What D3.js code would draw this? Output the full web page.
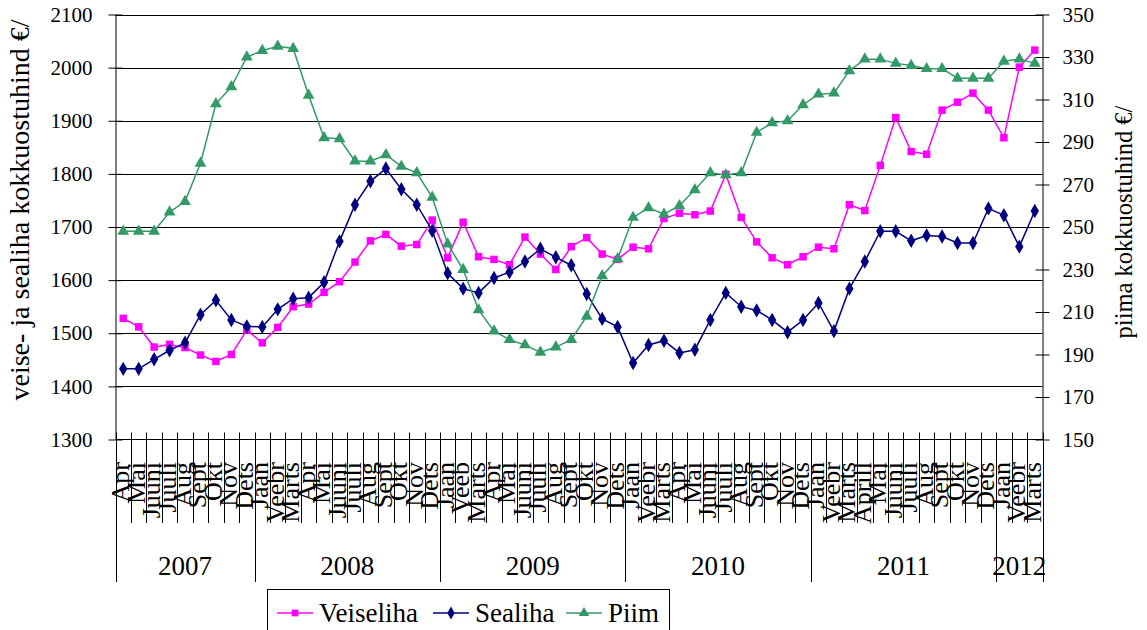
<!DOCTYPE html>
<html><head><meta charset="utf-8">
<script src="https://cdn.jsdelivr.net/npm/d3@7"></script>
<style>
html,body{margin:0;padding:0;background:#fff;}
svg text{font-family:"Liberation Serif","Times New Roman",serif;fill:#000;}
</style></head>
<body><svg id="c" width="1147" height="630"></svg>
<script>
const months = ["Apr","Mai","Juuni","Juuli","Aug","Sept","Okt","Nov","Dets",
"Jaan","Veebr","Marts","Apr","Mai","Juuni","Juuli","Aug","Sept","Okt","Nov","Dets",
"Jaan","Veeb","Marts","Apr","Mai","Juuni","Juuli","Aug","Sept","Okt","Nov","Dets",
"Jaan","Veebr","Marts","Apr","Mai","Juuni","Juuli","Aug","Sept","Okt","Nov","Dets",
"Jaan","Veebr","Marts","Aprill","Mai","Juuni","Juuli","Aug","Sept","Okt","Nov","Dets",
"Jaan","Veebr","Marts"];
const years = ["2007","2008","2009","2010","2011","2012"];
const yearMonthCounts = [9,12,12,12,12,3];
const veiseliha = [1528,1512,1474,1479,1473,1459,1447,1460,1506,1482,1511,1550,1555,1577,1597,1634,1674,1686,1664,1667,1713,1642,1709,1644,1639,1629,1681,1649,1620,1663,1680,1649,1639,1662,1659,1716,1726,1723,1730,1799,1718,1672,1642,1629,1644,1662,1659,1742,1731,1816,1906,1842,1837,1920,1935,1952,1920,1868,2001,2033];
const sealiha = [1433,1433,1451,1468,1482,1535,1562,1525,1513,1512,1545,1565,1567,1596,1673,1742,1786,1810,1771,1742,1693,1613,1584,1576,1604,1615,1635,1659,1643,1628,1574,1527,1512,1444,1478,1486,1463,1469,1525,1576,1550,1543,1525,1502,1525,1557,1504,1584,1635,1692,1692,1674,1684,1682,1670,1670,1735,1722,1663,1730];
const piim = [248,248,248,257,262,280,308,316,330,333,335,334,312,292,291.5,281,281,284,278.5,275.5,264,242,230,211,201,197,194.5,191,193.5,197,208,227,235,254.5,259,256,260,267.5,275.5,274.5,275.5,294.5,299,300,307.5,312.5,313,323.5,329,329,327,326,324.5,324.5,320,320,320,328,329,327];
const leftTicks = [1300,1400,1500,1600,1700,1800,1900,2000,2100];
const rightTicks = [150,170,190,210,230,250,270,290,310,330,350];
const seriesNames = ["Veiseliha","Sealiha","Piim"];
const leftTitle = "veise- ja sealiha kokkuostuhind €/";
const rightTitle = "piima kokkuostuhind €/";

const FONT = "'Liberation Serif','Times New Roman',serif";
const svg = d3.select("#c");
const L = 115.5, R = 1042.5, T = 14.5, B = 439.5;
const idx = d3.range(months.length);
const x = d3.scaleBand().domain(idx).range([L, R]).padding(0);
const cx = i => x(i) + x.bandwidth()/2;
const yL = d3.scaleLinear().domain([1300,2100]).range([B, T]);
const yR = d3.scaleLinear().domain([150,350]).range([B, T]);

// gridlines
svg.append("g").selectAll("line").data(leftTicks.slice(1)).join("line")
  .attr("x1", L).attr("x2", R).attr("y1", d => Math.round(yL(d))+0.5).attr("y2", d => Math.round(yL(d))+0.5)
  .attr("stroke", "#000").attr("stroke-width", 1);

// left axis
const gl = svg.append("g").attr("transform", `translate(${L},0)`)
  .call(d3.axisLeft(yL).tickValues(leftTicks).tickSize(7).tickFormat(d3.format("d")));
gl.attr("font-family", null).attr("font-size", null);
gl.selectAll(".tick line").attr("x2", -7).attr("x1", 7).attr("stroke", "#000");
gl.select(".domain").attr("stroke", "#000").attr("d", `M0.5,${T}V${B}`);
gl.selectAll("text").style("font-size", "21px").style("font-family", FONT).attr("fill", "#000").attr("x", -23);

// right axis
const gr = svg.append("g").attr("transform", `translate(${R},0)`)
  .call(d3.axisRight(yR).tickValues(rightTicks).tickSize(7).tickFormat(d3.format("d")));
gr.attr("font-family", null).attr("font-size", null);
gr.selectAll(".tick line").attr("x1", -7).attr("x2", 7).attr("stroke", "#000");
gr.select(".domain").attr("stroke", "#000").attr("d", `M0.5,${T}V${B}`);
gr.selectAll("text").style("font-size", "21px").style("font-family", FONT).attr("fill", "#000").attr("x", 20);

// bottom axis line
svg.append("line").attr("x1", L).attr("x2", R+1).attr("y1", B).attr("y2", B).attr("stroke", "#000");

// category tick lines
const yearStarts = [0];
yearMonthCounts.forEach((c, k) => yearStarts.push(yearStarts[k] + c));
const bounds = d3.range(months.length + 1);
svg.append("g").selectAll("line").data(bounds).join("line")
  .attr("x1", k => Math.round(k < months.length ? x(k) : R) + 0.5)
  .attr("x2", k => Math.round(k < months.length ? x(k) : R) + 0.5)
  .attr("y1", B - 7)
  .attr("y2", k => yearStarts.includes(k) ? 582 : 523)
  .attr("stroke", "#000").attr("stroke-width", 1);

// month labels
svg.append("g").selectAll("text").data(idx).join("text")
  .attr("transform", i => `translate(${cx(i)+6},462) rotate(-90)`)
  .attr("text-anchor", "end").style("font-size", "26px").style("font-family", FONT)
  .text(i => months[i]);

// year labels
svg.append("g").selectAll("text").data(years).join("text")
  .attr("x", (d, k) => (x(yearStarts[k]) + (yearStarts[k+1] < months.length ? x(yearStarts[k+1]) : R)) / 2)
  .attr("y", 575).attr("text-anchor", "middle").style("font-size", "27px").style("font-family", FONT)
  .text(d => d);

// axis titles
svg.append("text").attr("transform", "translate(29,210) rotate(-90)")
  .attr("text-anchor", "middle").style("font-size", "28px").style("font-family", FONT).text(leftTitle);
svg.append("text").attr("transform", "translate(1132,222) rotate(-90)")
  .attr("text-anchor", "middle").style("font-size", "24.5px").style("font-family", FONT).text(rightTitle);

// series
const colors = ["#FF00FF", "#000080", "#339966"];
const data = [veiseliha, sealiha, piim];
const scales = [yL, yL, yR];
const symbols = [d3.symbolSquare, d3.symbolDiamond, d3.symbolTriangle];
const symSizes = [56, 60, 60];
data.forEach((vals, s) => {
  const line = d3.line().x((d, i) => cx(i)).y(d => scales[s](d));
  svg.append("path").datum(vals).attr("d", line).attr("fill", "none")
    .attr("stroke", colors[s]).attr("stroke-width", 1.5);
  svg.append("g").selectAll("path").data(vals).join("path")
    .attr("transform", (d, i) => `translate(${cx(i)},${scales[s](d)})`)
    .attr("d", d3.symbol().type(symbols[s]).size(symSizes[s]))
    .attr("fill", colors[s]);
});

// legend
const lg = svg.append("g");
lg.append("rect").attr("x", 267.5).attr("y", 589.5).attr("width", 402).attr("height", 60)
  .attr("fill", "#fff").attr("stroke", "#000");
const legX = [277, 433, 566];
seriesNames.forEach((n, s) => {
  const g = lg.append("g").attr("transform", `translate(${legX[s]},613)`);
  g.append("line").attr("x1", 0).attr("x2", 36).attr("stroke", colors[s]).attr("stroke-width", 1.5);
  g.append("path").attr("transform", "translate(18,0)")
    .attr("d", d3.symbol().type(symbols[s]).size(symSizes[s] * 0.8)).attr("fill", colors[s]);
  g.append("text").attr("x", 42).attr("y", 9).style("font-size", "27px").style("font-family", FONT).text(n);
});
</script></body></html>
